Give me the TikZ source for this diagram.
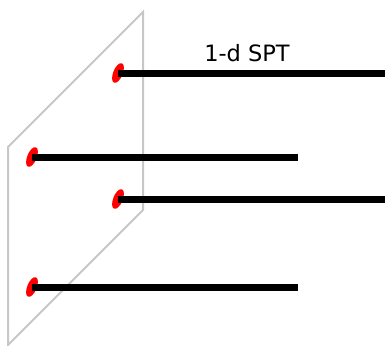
\documentclass[tikz,border=0pt]{standalone}
\usepackage{fontspec}
\setmainfont{DejaVu Sans}
\usetikzlibrary{shapes.geometric}

\begin{document}
\begin{tikzpicture}[x=1pt, y=-1pt]
    \useasboundingbox (0,0) rectangle (385,345);
    \tikzset{edge/.style={ellipse, fill=red, inner sep=0pt, minimum width=9.5pt, minimum height=21pt, rotate=-22},
             chain/.style={line width=7pt}}
    % boundary plane
    \draw[black!22, line width=2pt] (8,147) -- (143,12) -- (143,210) -- (8,345) -- cycle;
    % edge modes and chains
    \node[edge] (e1) at (118,73) {};
    \node[edge] (e2) at (32,157) {};
    \node[edge] (e3) at (118,199) {};
    \node[edge] (e4) at (32,287) {};
    \coordinate (t1) at (385,73);
    \coordinate (t2) at (298,157);
    \coordinate (t3) at (385,199);
    \coordinate (t4) at (298,287);
    \draw[chain] (e1.center) -- (t1);
    \draw[chain] (e2.center) -- (t2);
    \draw[chain] (e3.center) -- (t3);
    \draw[chain] (e4.center) -- (t4);
    \node[font=\fontsize{22.5}{27}\selectfont] (lbl) at (247,53) {1-d SPT};
\end{tikzpicture}
\end{document}
